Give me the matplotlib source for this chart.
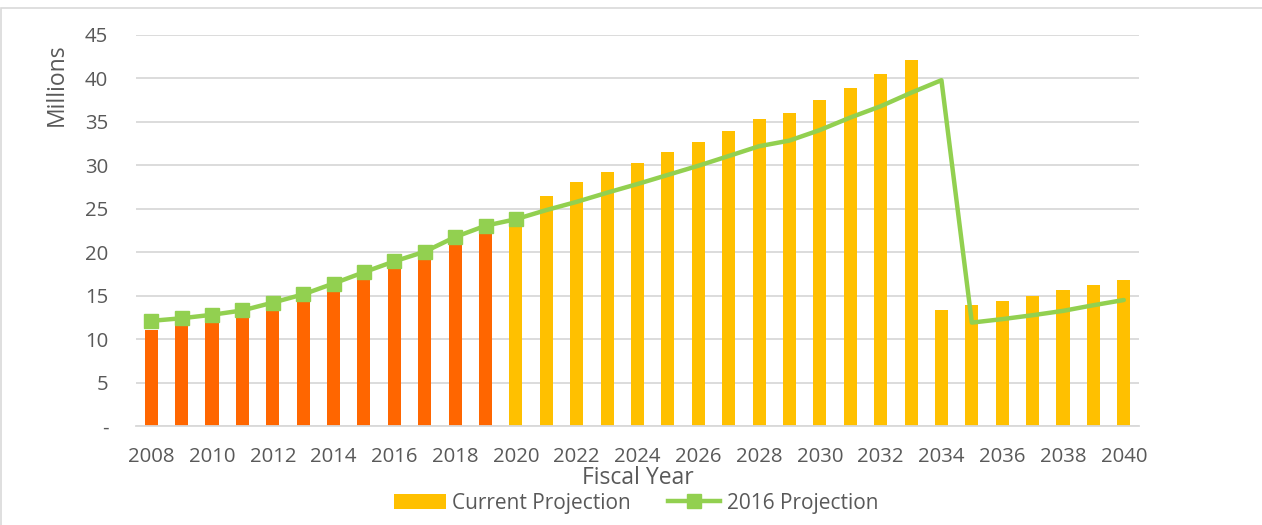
import matplotlib.pyplot as plt
from matplotlib.patches import Rectangle, Patch
from matplotlib.lines import Line2D

plt.rcParams['font.family'] = ['Open Sans', 'DejaVu Sans']

years = list(range(2008, 2041))
current = [11.1, 11.6, 12.0, 12.5, 13.35, 14.3, 15.5, 16.8, 18.1, 19.25,
           20.9, 22.2, 23.5, 26.5, 28.1, 29.2, 30.3, 31.5, 32.7, 33.9,
           35.3, 36.05, 37.5, 38.95, 40.5, 42.1, 13.4, 13.9, 14.4, 15.0,
           15.6, 16.2, 16.8]
proj2016 = [12.1, 12.4, 12.8, 13.3, 14.2, 15.15, 16.4, 17.7, 18.95, 20.06,
            21.75, 23.05, 23.8, 24.85, 25.8, 26.85, 27.85, 28.9, 29.95, 31.07,
            32.2, 32.85, 34.06, 35.5, 36.8, 38.35, 39.8, 11.9, 12.3, 12.75,
            13.25, 13.9, 14.5]
actual_until = 2019   # bars up to here are actuals (orange)
marker_until = 2020

orange = '#FF6600'
yellow = '#FFC000'
green = '#92D050'
grid_c = '#D9D9D9'
text_c = '#595959'

fig = plt.figure(figsize=(12.62, 5.25), dpi=100)
ax = fig.add_axes([136 / 1262, 1 - 426 / 525, (1139 - 136) / 1262, (426 - 35) / 525])

# light frame around the chart area
fig.patches.append(Rectangle((1 / 1262, -0.1), 1.2, 1 - 8 / 525 + 0.1,
                             transform=fig.transFigure, fill=False,
                             edgecolor=grid_c, linewidth=1.2))

x = list(range(len(years)))
colors = [orange if y <= actual_until else yellow for y in years]
ax.bar(x, current, width=0.43, color=colors, zorder=2)

ax.plot(x, proj2016, color=green, linewidth=3.2, zorder=3,
        solid_capstyle='round', solid_joinstyle='round')
nm = years.index(marker_until) + 1
ax.plot(x[:nm], proj2016[:nm], linestyle='none', marker='s', markersize=10,
        color=green, zorder=4)

ax.set_xlim(-0.5, len(years) - 0.5)
ax.set_ylim(0, 45)
ax.set_yticks(range(0, 46, 5))
ax.set_yticklabels(['-'] + [str(v) for v in range(5, 46, 5)])
ax.set_xticks(x[::2])
ax.set_xticklabels([str(y) for y in years[::2]])
ax.yaxis.grid(True, color=grid_c, linewidth=1.3, zorder=0)
ax.set_axisbelow(True)
for s in ['top', 'right', 'left']:
    ax.spines[s].set_visible(False)
ax.spines['bottom'].set_color(grid_c)
ax.spines['bottom'].set_linewidth(1.3)
ax.tick_params(axis='both', length=0, labelsize=14.7, labelcolor=text_c)
ax.tick_params(axis='y', pad=20)
ax.tick_params(axis='x', pad=15)

fig.text(57 / 1262, 1 - 85 / 525, 'Millions', rotation=90, ha='center',
         va='center', fontsize=16.5, color=text_c)
fig.text(638 / 1262, 1 - 478 / 525, 'Fiscal Year', ha='center', va='center',
         fontsize=16.5, color=text_c)

handles = [Patch(facecolor=yellow, edgecolor='none'),
           Line2D([], [], color=green, linewidth=3.2, marker='s', markersize=10)]
fig.legend(handles, ['Current Projection', '2016 Projection'], loc='center',
           bbox_to_anchor=(636 / 1262, 1 - 503 / 525), ncol=2, frameon=False,
           fontsize=15, labelcolor=text_c, handlelength=2.5, handleheight=0.7,
           handletextpad=0.3, columnspacing=1.8)

fig.savefig('out.png', dpi=100)
